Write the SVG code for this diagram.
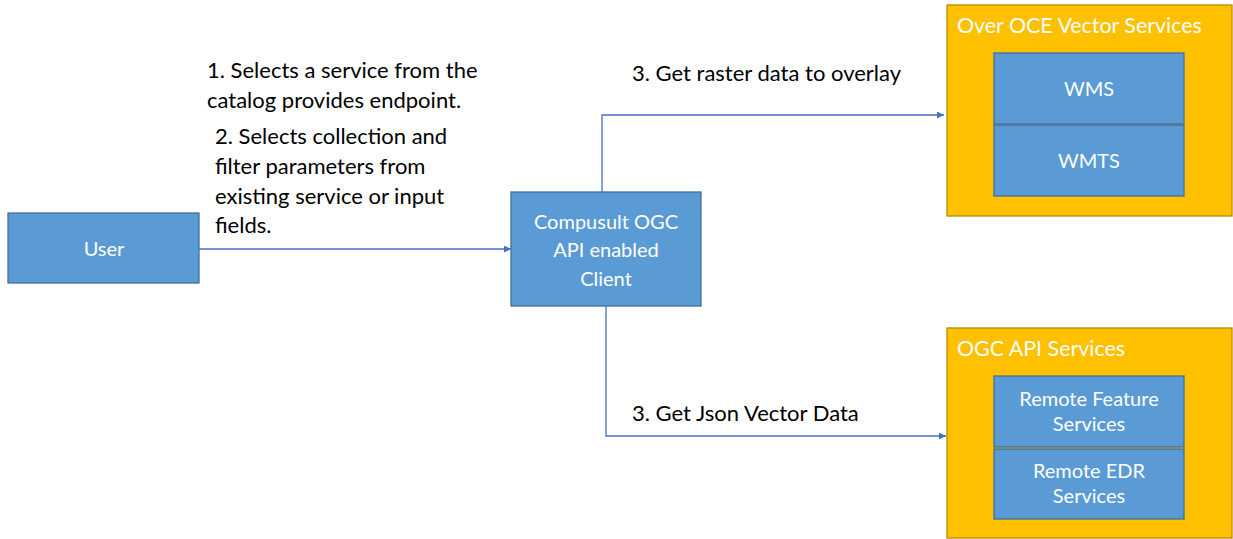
<svg xmlns="http://www.w3.org/2000/svg" width="1233" height="539" viewBox="0 0 1233 539">
<defs>
<style>
.blue{fill:#5B9BD5;stroke:#41719C;stroke-width:1.3}
.orange{fill:#FFC000;stroke:#BC8C00;stroke-width:1.3}
.wt{font-family:Lato,"Liberation Sans",sans-serif;font-size:20px;fill:#FFFFFF;text-anchor:middle}
.tt{font-family:Lato,"Liberation Sans",sans-serif;font-size:21.4px;fill:#FFFFFF}
.bt{font-family:Lato,"Liberation Sans",sans-serif;font-size:22px;fill:#000000}
.conn{fill:none;stroke:#4472C4;stroke-width:1.3}
</style>
<marker id="arr" viewBox="0 0 10 10" refX="10" refY="5" markerWidth="7" markerHeight="7" markerUnits="userSpaceOnUse" orient="auto">
<path d="M0,0 L10,5 L0,10 z" fill="#4472C4"/>
</marker>
</defs>
<rect width="1233" height="539" fill="#FFFFFF"/>
<g id="user">
<rect class="blue" x="8" y="213" width="191" height="70"/>
<text class="wt" x="104" y="256">User</text>
</g>
<g id="client">
<rect class="blue" x="511" y="192" width="190" height="114"/>
<text class="wt" x="606" y="229">Compusult OGC</text>
<text class="wt" x="606" y="257">API enabled</text>
<text class="wt" x="606" y="286">Client</text>
</g>
<g id="vector-services">
<rect class="orange" x="947" y="5" width="285" height="211"/>
<text class="tt" x="957" y="33">Over OCE Vector Services</text>
</g>
<g id="wms">
<rect class="blue" x="994" y="53" width="190" height="71"/>
<text class="wt" x="1089" y="96">WMS</text>
</g>
<g id="wmts">
<rect class="blue" x="994" y="125" width="190" height="71"/>
<text class="wt" x="1089" y="168">WMTS</text>
</g>
<g id="ogc-services">
<rect class="orange" x="947" y="328" width="285" height="210"/>
<text class="tt" x="957" y="356">OGC API Services</text>
</g>
<g id="feature">
<rect class="blue" x="994" y="376" width="190" height="71"/>
<text class="wt" x="1089" y="406">Remote Feature</text>
<text class="wt" x="1089" y="431">Services</text>
</g>
<g id="edr">
<rect class="blue" x="994" y="449" width="190" height="70"/>
<text class="wt" x="1089" y="478">Remote EDR</text>
<text class="wt" x="1089" y="503">Services</text>
</g>
<g id="connectors">
<path class="conn" d="M199,249 L511,249" marker-end="url(#arr)"/>
<path class="conn" d="M602,192 L602,115 L944,115" marker-end="url(#arr)"/>
<path class="conn" d="M606,306 L606,436 L946,436" marker-end="url(#arr)"/>
</g>
<g id="labels">
<text class="bt" x="207" y="78">1. Selects a service from the</text>
<text class="bt" x="207" y="108">catalog provides endpoint.</text>
<text class="bt" x="215" y="144">2. Selects collection and</text>
<text class="bt" x="215" y="174">filter parameters from</text>
<text class="bt" x="215" y="204">existing service or input</text>
<text class="bt" x="215" y="233">fields.</text>
<text class="bt" x="632" y="81">3. Get raster data to overlay</text>
<text class="bt" x="632" y="421">3. Get Json Vector Data</text>
</g>
</svg>
